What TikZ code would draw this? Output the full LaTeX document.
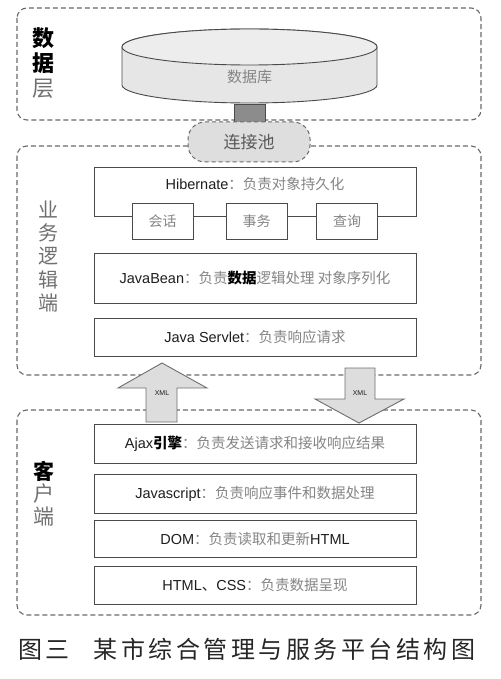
\documentclass[tikz,border=0pt]{standalone}
\usepackage{fontspec}
\setmainfont{Liberation Sans}
\newfontfamily\cjk{Noto Sans CJK SC}
\newfontfamily\lat{Liberation Sans}
\definecolor{dashgray}{HTML}{6A6A6A}
\definecolor{boxgray}{HTML}{4A4A4A}
\definecolor{latc}{HTML}{1E1E1E}
\definecolor{cjkc}{HTML}{858585}
\definecolor{sidec}{HTML}{707070}
\definecolor{dbfill}{HTML}{E6E6E6}
\definecolor{arrfill}{HTML}{DDDDDD}
\newcommand{\rowtxt}[2]{{\lat\color{latc}#1}{\cjk\color{cjkc}#2}}
\begin{document}
\begin{tikzpicture}[x=1pt,y=-1pt,
  layer/.style={draw=dashgray, dash pattern=on 5pt off 3pt, line width=1.1pt, rounded corners=10pt},
  box/.style={draw=boxgray, line width=1pt, fill=white, minimum width=322pt, inner sep=0pt,
    font=\fontsize{14.5}{16}\selectfont},
  subbox/.style={draw=boxgray, line width=1pt, fill=white, minimum width=61pt, minimum height=36pt,
    inner sep=0pt, font=\cjk\fontsize{14}{16}\selectfont, text=cjkc},
  side/.style={align=center, inner sep=0pt},
  blockarrow/.style={draw=boxgray!80, line width=0.9pt, fill=arrfill},
  xmllabel/.style={font=\fontsize{7}{8}\selectfont, text=latc, inner sep=0pt}
]
\useasboundingbox (0,0) rectangle (500,679);
% layer containers
\draw[layer] (17,8) rectangle (481,120);
\draw[layer] (17,146) rectangle (481,375);
\draw[layer] (17,410) rectangle (481,615);
% side labels
\node[side, font=\cjk\fontsize{22}{25}\selectfont] (ldata) at (43,63)
  {{\bfseries\color{black}数}\\{\bfseries\color{black}据}\\{\color{sidec}层}};
\node[side, font=\cjk\fontsize{20}{23.25}\selectfont, text=sidec] (lbiz) at (48,256.5)
  {业\\务\\逻\\辑\\端};
\node[side, font=\cjk\fontsize{21}{22.5}\selectfont] (lcli) at (44,493.5)
  {{\bfseries\color{black}客}\\{\color{sidec}户}\\{\color{sidec}端}};
% connection between database and pool
\node[draw=boxgray, line width=0.8pt, fill=black!45, minimum width=31pt, minimum height=18pt, inner sep=0pt] (plug) at (249.5,113) {};
% database cylinder
\draw[draw=boxgray, line width=0.9pt, fill=dbfill]
  (122,47) -- (122,85) arc[start angle=180, end angle=360, x radius=127.5pt, y radius=18pt]
  -- (377,47) arc[start angle=0, end angle=180, x radius=127.5pt, y radius=18pt] -- cycle;
\draw[draw=boxgray, line width=0.9pt, fill=dbfill!70!white] (249.5,47) ellipse[x radius=127.5pt, y radius=18pt];
\node[font=\cjk\fontsize{15}{17}\selectfont, text=cjkc] (db) at (249.5,77) {数据库};
% connection pool
\node[draw=dashgray, dash pattern=on 4pt off 3pt, line width=1pt, fill=black!13, rounded corners=17pt,
  minimum width=122pt, minimum height=40pt, font=\cjk\fontsize{17}{19}\selectfont, text=black!65] (pool) at (249,142) {连接池};
% business logic layer
\node[box, minimum height=48pt] (hib) at (255,192) {};
\node[font=\fontsize{14.5}{16}\selectfont, inner sep=0pt] (hibt) at (255,184)
  {\rowtxt{Hibernate}{：负责对象持久化}};
\node[subbox] (s1) at (162.5,221) {会话};
\node[subbox] (s2) at (256.5,221) {事务};
\node[subbox] (s3) at (347,221) {查询};
\node[box, minimum height=50pt] (bean) at (255,278)
  {\rowtxt{JavaBean}{：负责}{\cjk\bfseries\color{black}数据}{\cjk\color{cjkc}逻辑处理 对象序列化}};
\node[box, minimum height=38pt] (servlet) at (255,337) {\rowtxt{Java Servlet}{：负责响应请求}};
% arrows
\draw[blockarrow] (146,422) -- (146,388) -- (118,388) -- (162,363) -- (207,388) -- (177,388) -- (177,422) -- cycle;
\node[xmllabel] (xmlup) at (162,393) {XML};
\draw[blockarrow] (345,368) -- (345,399) -- (315,399) -- (359,423) -- (404,399) -- (375,399) -- (375,368) -- cycle;
\node[xmllabel] (xmldown) at (360,393) {XML};
% client layer
\node[box, minimum height=39pt] (ajax) at (255,443.5) {\rowtxt{Ajax}{\bfseries\color{black}引擎}{\cjk\color{cjkc}：负责发送请求和接收响应结果}};
\node[box, minimum height=39pt] (js) at (255,493.5) {\rowtxt{Javascript}{：负责响应事件和数据处理}};
\node[box, minimum height=37pt] (dom) at (255,538.5) {\rowtxt{DOM}{：负责读取和更新}{\lat\color{latc}HTML}};
\node[box, minimum height=38pt] (html) at (255,585) {\rowtxt{HTML}{\color{latc}、}{\lat\color{latc}CSS}{\cjk\color{cjkc}：负责数据呈现}};
% caption
\node[anchor=west, inner sep=0pt, font=\cjk\fontsize{24}{26}\selectfont, text=black!85] (cap) at (18,649)
  {\addfontfeature{LetterSpace=14.6}图三\hspace{24pt}某市综合管理与服务平台结构图};
\end{tikzpicture}
\end{document}
